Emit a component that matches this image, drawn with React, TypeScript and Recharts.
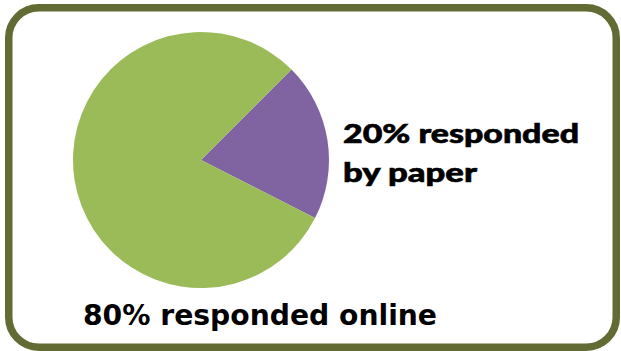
import React from "react";
import { PieChart, Pie, Cell } from "recharts";

const categories = ["responded by paper", "responded online"];
const values = [20, 80];
const colors = ["#8064a2", "#9bbb59"];
const labelTop = ["20% responded", "by paper"];
const labelBottom = "80% responded online";

const data = categories.map((name, i) => ({ name, value: values[i] }));

export default function App() {
  return (
    <div style={{ position: "absolute", left: 0, top: 0, width: 621, height: 351, background: "#fff", overflow: "hidden" }}>
      <div style={{ position: "absolute", left: 0, top: 0 }}>
        <PieChart width={621} height={351} margin={{ top: 0, right: 0, bottom: 0, left: 0 }}>
          <Pie
            data={data}
            dataKey="value"
            nameKey="name"
            cx={201}
            cy={160}
            outerRadius={128}
            startAngle={45}
            endAngle={-315}
            stroke="none"
            isAnimationActive={false}
          >
            {data.map((d, i) => (
              <Cell key={d.name} fill={colors[i]} />
            ))}
          </Pie>
        </PieChart>
      </div>
      <svg width={621} height={351} style={{ position: "absolute", left: 0, top: 0, pointerEvents: "none" }}>
        <rect x={8.75} y={7.75} width={607.5} height={339.5} rx={30} ry={30} fill="none" stroke="#636b35" strokeWidth={7.5} />
        <text x={343} y={143} fontFamily="Lato, 'Open Sans', sans-serif" fontWeight={900} fontSize={26} fill="#000" stroke="#000" strokeWidth={0.6} textLength={236} lengthAdjust="spacingAndGlyphs">{labelTop[0]}</text>
        <text x={343} y={182} fontFamily="Lato, 'Open Sans', sans-serif" fontWeight={900} fontSize={26} fill="#000" stroke="#000" strokeWidth={0.6} textLength={134} lengthAdjust="spacingAndGlyphs">{labelTop[1]}</text>
        <text x={83} y={325} fontFamily="'DejaVu Sans', sans-serif" fontWeight={700} fontSize={29} fill="#000" textLength={354} lengthAdjust="spacingAndGlyphs">{labelBottom}</text>
      </svg>
    </div>
  );
}
